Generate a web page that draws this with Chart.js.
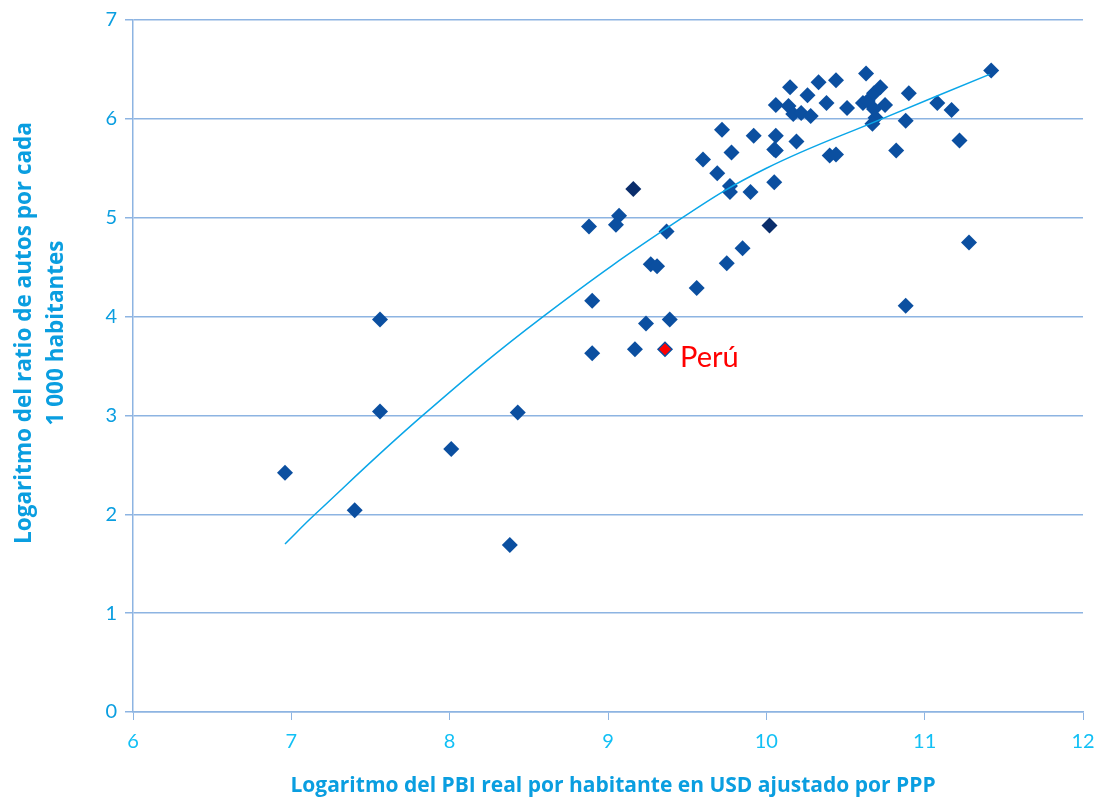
<!DOCTYPE html>
<html>
<head>
<meta charset="utf-8">
<script src="https://cdn.jsdelivr.net/npm/chart.js@4.4.1/dist/chart.umd.min.js"></script>
<style>
  html, body { margin: 0; padding: 0; background: #fff; }
  #wrap { width: 1109px; height: 803px; position: relative; }
</style>
</head>
<body>
<div id="wrap"><canvas id="chart"></canvas></div>
<script>
// log PBI per capita (x) vs log autos por 1000 hab (y)
const pbiLog = [
  6.96, 7.40, 7.56, 7.56, 8.01, 8.38, 8.43, 8.88, 8.90, 8.90,
  9.07, 9.05, 9.16, 9.17, 9.24, 9.27, 9.31, 9.37, 9.39, 9.56,
  9.60, 9.69, 9.72, 9.75, 9.77, 9.77, 9.78, 9.85, 9.90, 9.92,
  10.02, 10.05, 10.05, 10.06, 10.06, 10.06, 10.15, 10.14, 10.17, 10.19,
  10.22, 10.26, 10.28, 10.33, 10.38, 10.40, 10.44, 10.44, 10.51, 10.63,
  10.61, 10.64, 10.68, 10.72, 10.75, 10.68, 10.69, 10.67, 10.82, 10.88,
  10.88, 10.90, 11.08, 11.17, 11.22, 11.28, 11.42
];
const autosLog = [
  2.42, 2.04, 3.97, 3.04, 2.66, 1.69, 3.03, 4.91, 3.63, 4.16,
  5.02, 4.93, 5.29, 3.67, 3.93, 4.53, 4.51, 4.86, 3.97, 4.29,
  5.59, 5.45, 5.89, 4.54, 5.32, 5.26, 5.66, 4.69, 5.26, 5.83,
  4.92, 5.36, 5.69, 5.68, 5.83, 6.14, 6.32, 6.13, 6.05, 5.77,
  6.06, 6.24, 6.03, 6.37, 6.16, 5.63, 5.64, 6.39, 6.11, 6.46,
  6.16, 6.18, 6.26, 6.32, 6.14, 6.10, 6.01, 5.95, 5.68, 4.11,
  5.98, 6.26, 6.16, 6.09, 5.78, 4.75, 6.49
];
// overlapping markers that render darker in the original
const darkPoints = [12, 30];

const peruX = [9.36];
const peruY = [3.67];

// trend curve (where it crosses the grid lines)
const trendX = [6.96, 7.15, 7.83, 8.59, 9.47, 10.00, 10.73, 11.41];
const trendY = [1.70, 2.00, 3.00, 4.00, 5.00, 5.50, 6.00, 6.45];

const xTicks = [6, 7, 8, 9, 10, 11, 12];
const yTicks = [0, 1, 2, 3, 4, 5, 6, 7];

const yTitle = ['Logaritmo del ratio de autos por cada', '1 000 habitantes'];
const xTitle = 'Logaritmo del PBI real por habitante en USD ajustado por PPP';

const FONT = "Lato, 'Open Sans', sans-serif";

const extras = {
  id: 'extras',
  afterDatasetsDraw(chart) {
    const ctx = chart.ctx;
    // Perú label
    const pt = chart.getDatasetMeta(1).data[0];
    ctx.save();
    ctx.fillStyle = '#ff0000';
    ctx.font = "29px " + FONT;
    ctx.textBaseline = 'middle';
    ctx.fillText('Perú', pt.x + 15, pt.y + 8);
    ctx.restore();
  },
  afterDraw(chart) {
    const ctx = chart.ctx;
    ctx.save();
    ctx.fillStyle = '#0a9ee0';
    ctx.textAlign = 'center';
    ctx.textBaseline = 'middle';
    // x title
    ctx.font = "bold 21px 'Open Sans', sans-serif";
    ctx.fillText(xTitle, 613, 786);
    // y title
    ctx.font = "bold 22.5px 'Open Sans', sans-serif";
    ctx.translate(0, 333);
    ctx.rotate(-Math.PI / 2);
    ctx.fillText(yTitle[0], 0, 25);
    ctx.fillText(yTitle[1], 0, 57);
    ctx.restore();
  }
};

new Chart(document.getElementById('chart'), {
  type: 'scatter',
  data: {
    datasets: [
      {
        label: 'Países',
        data: pbiLog.map((x, i) => ({ x: x, y: autosLog[i] })),
        pointStyle: 'rectRot',
        pointRadius: 8,
        pointBorderWidth: 0,
        pointBackgroundColor: pbiLog.map((x, i) => darkPoints.includes(i) ? '#0a2d6b' : '#0b4fa0'),
        order: 2
      },
      {
        label: 'Perú',
        data: peruX.map((x, i) => ({ x: x, y: peruY[i] })),
        pointStyle: 'rectRot',
        pointRadius: 7,
        pointBorderWidth: 1.5,
        pointBorderColor: '#0b4fa0',
        pointBackgroundColor: '#ff0000',
        order: 1
      },
      {
        label: 'Tendencia',
        type: 'line',
        data: trendX.map((x, i) => ({ x: x, y: trendY[i] })),
        borderColor: '#0aa6e8',
        borderWidth: 1.5,
        pointRadius: 0,
        tension: 0.4,
        fill: false,
        order: 0
      }
    ]
  },
  options: {
    responsive: true,
    maintainAspectRatio: false,
    animation: false,
    layout: { padding: { top: 17, right: 26, left: 0, bottom: 0 } },
    plugins: {
      legend: { display: false },
      tooltip: { enabled: false }
    },
    scales: {
      x: {
        type: 'linear',
        min: 6,
        max: 12,
        afterBuildTicks: (s) => { s.ticks = xTicks.map(v => ({ value: v })); },
        grid: {
          drawOnChartArea: false,
          drawTicks: true,
          tickLength: 8,
          color: '#8db4e2'
        },
        border: { color: '#8db4e2', width: 1.5 },
        ticks: {
          color: '#12c0f5',
          padding: 10,
          font: { family: FONT, size: 20 }
        },
        afterFit: (s) => { s.height = 91; }
      },
      y: {
        type: 'linear',
        min: 0,
        max: 7,
        afterBuildTicks: (s) => { s.ticks = yTicks.map(v => ({ value: v })); },
        grid: {
          color: '#8db4e2',
          lineWidth: 1.5,
          drawTicks: true,
          tickLength: 8
        },
        border: { color: '#8db4e2', width: 1.5 },
        ticks: {
          color: '#0a9ee0',
          padding: 8,
          font: { family: FONT, size: 20 }
        },
        afterFit: (s) => { s.width = 133; }
      }
    }
  },
  plugins: [extras]
});
</script>
</body>
</html>
